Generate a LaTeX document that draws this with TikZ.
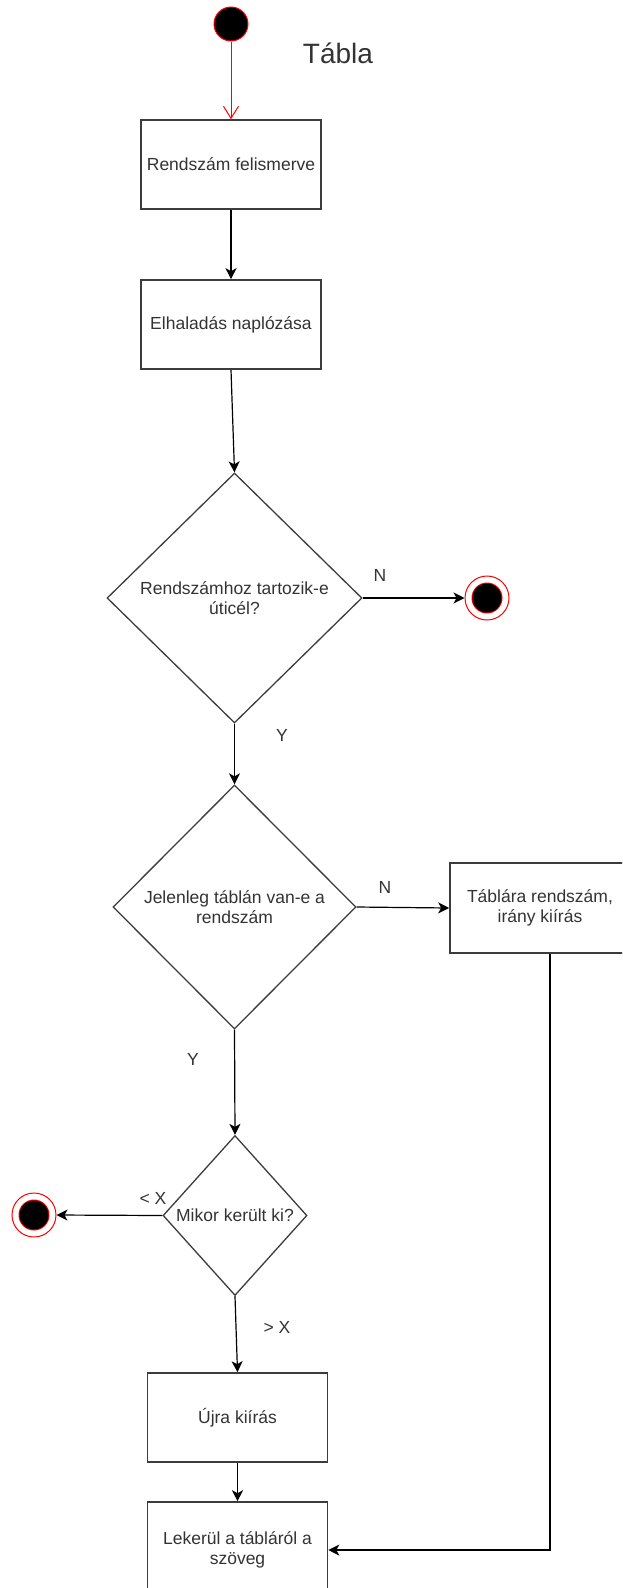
\documentclass[tikz,border=0pt]{standalone}
\usepackage{fontspec}
\setmainfont{Liberation Sans}
\usetikzlibrary{shapes.geometric,arrows.meta}
\definecolor{ink}{RGB}{51,51,51}
\definecolor{edge}{RGB}{60,60,60}
\definecolor{statered}{RGB}{255,0,0}

\begin{document}
\begin{tikzpicture}[x=1pt,y=-1pt,
  every node/.style={font=\fontsize{17.5}{20.5}\selectfont, text=ink},
  stepbox/.style={draw=edge, line width=1.6pt, minimum width=180pt, minimum height=89pt, inner sep=0pt, align=center},
  choice/.style={diamond, draw=edge, line width=1.3pt, inner sep=0pt, align=center},
  flow/.style={draw=black, line width=1.2pt, -{Stealth[length=11pt,width=11pt,inset=3pt]}},
  startdot/.style={circle, fill=black, draw=statered, line width=1pt, minimum size=34pt, inner sep=0pt},
  enddot/.style={circle, draw=statered, line width=1pt, minimum size=44pt, inner sep=0pt,
    path picture={\fill[statered] (path picture bounding box.center) circle (15.5pt);
                  \fill[black] (path picture bounding box.center) circle (14.5pt);}},
  lbl/.style={inner sep=0pt}
]
\useasboundingbox (0,0) rectangle (622,1588);
\clip (0,0) rectangle (622,1588);

% states and steps
\node[startdot] (start) at (231,24) {};
\node[font=\fontsize{28}{32}\selectfont] (title) at (338,53) {Tábla};
\node[stepbox] (recog) at (231,164.5) {Rendszám felismerve};
\node[stepbox] (log) at (231,324.5) {Elhaladás naplózása};
\node[choice, minimum width=255pt, minimum height=250pt] (dest) at (234.5,598) {Rendszámhoz tartozik-e\\úticél?};
\node[enddot] (endA) at (487,598) {};
\node[choice, minimum width=243pt, minimum height=244pt] (onboard) at (234.5,907) {Jelenleg táblán van-e a\\rendszám};
\node[stepbox, minimum height=90pt] (show) at (540,908) {Táblára rendszám,\\irány kiírás};
\node[choice, minimum width=144pt, minimum height=160pt] (when) at (235,1215.5) {Mikor került ki?};
\node[enddot] (endB) at (34,1215) {};
\node[stepbox] (rewrite) at (237.5,1417.5) {Újra kiírás};
\node[stepbox, minimum height=96pt] (clear) at (237.5,1550) {Lekerül a tábláról a\\szöveg};

% connectors
\draw[statered, line width=1pt, -{Straight Barb[length=12pt,width=15pt]}] (start.south) -- (recog.north);
\draw[flow] (recog.south) -- (log.north);
\draw[flow] (log.south) -- (dest.north);
\draw[flow] (dest.east) -- (endA.west);
\draw[flow] (dest.south) -- (onboard.north);
\draw[flow] (onboard.east) -- (show.west);
\draw[flow] (onboard.south) -- (when.north);
\draw[flow] (when.west) -- (endB.east);
\draw[flow] (when.south) -- (rewrite.north);
\draw[flow] (rewrite.south) -- (clear.north);
\draw[flow] ([xshift=10pt]show.south) |- (clear.east);

% branch labels
\node[lbl] (nA) at (380,575) {N};
\node[lbl] (yA) at (282,735) {Y};
\node[lbl] (nB) at (385,887) {N};
\node[lbl] (yB) at (193,1059) {Y};
\node[lbl] (lt) at (153,1198) {\textless{} X};
\node[lbl] (gt) at (277,1327) {\textgreater{} X};
\end{tikzpicture}
\end{document}
